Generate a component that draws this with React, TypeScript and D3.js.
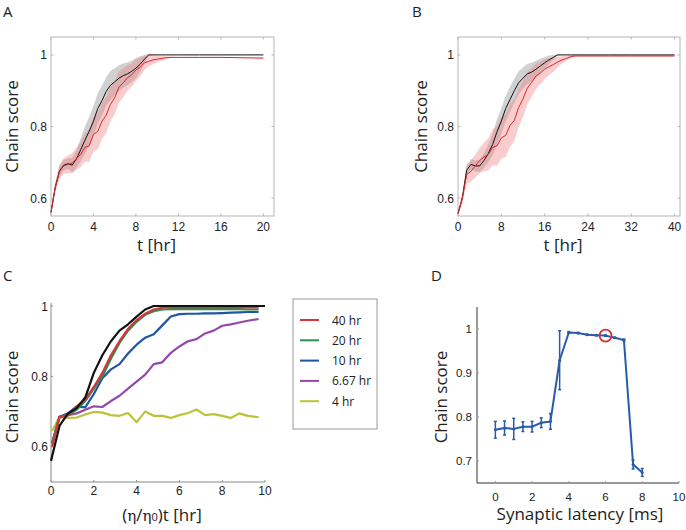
import React from "react";
import * as d3 from "d3";

// ---------- Panel A data ----------
const tA = [0, 0.4, 0.8, 1.2, 1.6, 2.0, 2.4, 2.8, 3.2, 3.6, 4.0, 4.4, 4.8, 5.2, 5.6, 6.0, 6.4, 6.8, 7.2, 7.6, 8.0, 8.4, 8.8, 9.2, 9.6, 10, 10.4, 10.8, 11.2, 12, 14, 16, 18, 20];
const blackA = [0.56, 0.63, 0.676, 0.692, 0.696, 0.692, 0.71, 0.735, 0.762, 0.787, 0.815, 0.85, 0.872, 0.898, 0.915, 0.925, 0.935, 0.942, 0.947, 0.954, 0.963, 0.974, 0.988, 1.0, 1.0, 1.0, 1.0, 1.0, 1.0, 1.0, 1.0, 1.0, 1.0, 1.0];
const blackASd = [0.004, 0.01, 0.015, 0.015, 0.015, 0.02, 0.025, 0.032, 0.038, 0.04, 0.042, 0.042, 0.042, 0.04, 0.04, 0.038, 0.036, 0.034, 0.032, 0.03, 0.028, 0.022, 0.012, 0.003, 0, 0, 0, 0, 0, 0, 0, 0, 0, 0];
const redA = [0.56, 0.63, 0.674, 0.69, 0.694, 0.698, 0.71, 0.722, 0.742, 0.746, 0.778, 0.786, 0.815, 0.832, 0.862, 0.88, 0.91, 0.922, 0.936, 0.944, 0.958, 0.966, 0.978, 0.982, 0.986, 0.988, 0.99, 0.992, 0.993, 0.993, 0.993, 0.993, 0.992, 0.991];
const redASd = [0.005, 0.015, 0.02, 0.022, 0.025, 0.028, 0.03, 0.035, 0.04, 0.045, 0.048, 0.05, 0.05, 0.05, 0.048, 0.046, 0.044, 0.04, 0.036, 0.032, 0.03, 0.026, 0.02, 0.015, 0.012, 0.009, 0.006, 0.004, 0.002, 0.001, 0.001, 0.001, 0.001, 0.001];
const ticksA = [0, 4, 8, 12, 16, 20];

// ---------- Panel B data ----------
const tB = [0, 0.8, 1.6, 2.4, 3.2, 4.0, 4.8, 5.6, 6.4, 7.2, 8.0, 8.8, 9.6, 10.4, 11.2, 12, 12.8, 13.6, 14.4, 15.2, 16, 16.8, 17.6, 18.4, 19.2, 20, 20.8, 21.6, 24, 28, 32, 36, 40];
const blackB = [0.557, 0.6, 0.678, 0.694, 0.69, 0.69, 0.705, 0.725, 0.75, 0.785, 0.815, 0.85, 0.875, 0.9, 0.922, 0.935, 0.947, 0.952, 0.96, 0.969, 0.978, 0.986, 0.993, 1.0, 1.0, 1.0, 1.0, 1.0, 1.0, 1.0, 1.0, 1.0, 1.0];
const blackBSd = [0.004, 0.01, 0.015, 0.015, 0.015, 0.018, 0.02, 0.025, 0.03, 0.035, 0.036, 0.036, 0.035, 0.034, 0.032, 0.03, 0.028, 0.026, 0.024, 0.02, 0.016, 0.012, 0.007, 0.002, 0, 0, 0, 0, 0, 0, 0, 0, 0];
const redB = [0.557, 0.6, 0.665, 0.675, 0.69, 0.705, 0.715, 0.722, 0.742, 0.746, 0.768, 0.775, 0.803, 0.817, 0.853, 0.877, 0.907, 0.923, 0.941, 0.949, 0.96, 0.967, 0.973, 0.98, 0.986, 0.99, 0.995, 0.997, 0.997, 0.997, 0.997, 0.997, 0.997];
const redBSd = [0.005, 0.015, 0.025, 0.03, 0.032, 0.035, 0.04, 0.045, 0.05, 0.055, 0.058, 0.06, 0.06, 0.058, 0.055, 0.05, 0.045, 0.04, 0.036, 0.032, 0.028, 0.024, 0.02, 0.015, 0.01, 0.007, 0.004, 0.002, 0.001, 0.001, 0.001, 0.001, 0.001];
const ticksB = [0, 8, 16, 24, 32, 40];

const yTicksAB = [0.6, 0.8, 1];

// ---------- Panel C data ----------
const xCBlack = [0, 0.4, 0.8, 1.2, 1.6, 2.0, 2.4, 2.8, 3.2, 3.6, 4.0, 4.4, 4.8, 6, 8, 10];
const blackC = [0.56, 0.66, 0.695, 0.71, 0.74, 0.81, 0.86, 0.9, 0.93, 0.948, 0.97, 0.99, 1.0, 1.0, 1.0, 1.0];
const xC = [0.05, 0.4, 0.8, 1.2, 1.6, 2.0, 2.4, 2.8, 3.2, 3.6, 4.0, 4.4, 4.8, 5.2, 5.6, 6.0, 6.4, 6.8, 7.2, 7.6, 8.0, 8.4, 8.8, 9.2, 9.7];
const seriesC40 = [0.6, 0.685, 0.69, 0.715, 0.735, 0.77, 0.81, 0.86, 0.9, 0.935, 0.96, 0.978, 0.99, 0.995, 0.997, 0.997, 0.997, 0.997, 0.997, 0.997, 0.997, 0.997, 0.997, 0.996, 0.996];
const seriesC20 = [0.61, 0.685, 0.69, 0.705, 0.73, 0.765, 0.8, 0.85, 0.895, 0.93, 0.955, 0.975, 0.985, 0.99, 0.991, 0.991, 0.991, 0.991, 0.991, 0.991, 0.991, 0.991, 0.991, 0.99, 0.99];
const seriesC10 = [0.61, 0.685, 0.695, 0.715, 0.712, 0.75, 0.795, 0.82, 0.835, 0.865, 0.89, 0.91, 0.92, 0.945, 0.97, 0.977, 0.978, 0.978, 0.979, 0.979, 0.98, 0.981, 0.982, 0.983, 0.983];
const seriesC667 = [0.61, 0.685, 0.69, 0.695, 0.705, 0.715, 0.713, 0.73, 0.745, 0.765, 0.785, 0.805, 0.835, 0.84, 0.867, 0.885, 0.9, 0.906, 0.922, 0.93, 0.944, 0.948, 0.953, 0.958, 0.963];
const seriesC4 = [0.645, 0.685, 0.682, 0.683, 0.692, 0.699, 0.697, 0.69, 0.688, 0.696, 0.67, 0.7, 0.688, 0.688, 0.682, 0.69, 0.696, 0.706, 0.69, 0.693, 0.688, 0.682, 0.695, 0.688, 0.684];
const legendC = ["40 hr", "20 hr", "10 hr", "6.67 hr", "4 hr"];
const colorsC = ["#d8363a", "#2c8f4e", "#1f55a5", "#9449a8", "#bcc23a"];
const xTicksC = [0, 2, 4, 6, 8, 10];
const yTicksC = [0.6, 0.8, 1];

// ---------- Panel D data ----------
const latency = [0, 0.5, 1, 1.5, 2, 2.5, 3, 3.5, 4, 4.5, 5, 5.5, 6, 6.5, 7, 7.5, 8];
const scoreD = [0.771, 0.775, 0.773, 0.778, 0.778, 0.787, 0.79, 0.929, 0.992, 0.991, 0.987, 0.986, 0.985, 0.98, 0.975, 0.692, 0.674];
const errD = [0.019, 0.016, 0.024, 0.011, 0.012, 0.011, 0.018, 0.067, 0.002, 0.001, 0.001, 0.001, 0.001, 0.001, 0.002, 0.01, 0.009];
const highlightD = 6;
const xTicksD = [0, 2, 4, 6, 8, 10];
const yTicksD = [0.7, 0.8, 0.9, 1];

const tickFont = "'Liberation Sans', Arial, sans-serif";
const labelFont = "'Open Sans', 'Noto Sans', sans-serif";

type BandProps = {
  letter: string;
  letterX: number;
  left: number; right: number; top: number; bottom: number;
  xMax: number;
  t: number[];
  black: number[]; blackSd: number[];
  red: number[]; redSd: number[];
  xTicks: number[];
  ylabX: number;
};

function BandPanel(p: BandProps) {
  const x = d3.scaleLinear().domain([0, p.xMax]).range([p.left, p.right]);
  const y = d3.scaleLinear().domain([0.55, 1.05]).range([p.bottom, p.top]);
  const idx = p.t.map((_, i) => i);
  const area = (m: number[], s: number[]) =>
    d3.area<number>().x((i) => x(p.t[i])).y0((i) => y(m[i] - s[i])).y1((i) => y(Math.min(1.005, m[i] + s[i])))(idx) || "";
  const line = (m: number[]) => d3.line<number>().x((i) => x(p.t[i])).y((i) => y(m[i]))(idx) || "";
  const frame = "#b5b5b5";
  return (
    <g>
      <text x={p.letterX} y={17} fontFamily={labelFont} fontSize={15} fill="#222">{p.letter}</text>
      <rect x={p.left} y={p.top} width={p.right - p.left} height={p.bottom - p.top} fill="none" stroke={frame} strokeWidth={1} />
      {p.xTicks.map((v) => (
        <g key={"xt" + v}>
          <line x1={x(v)} x2={x(v)} y1={p.bottom} y2={p.bottom - 2.5} stroke={frame} />
          <line x1={x(v)} x2={x(v)} y1={p.top} y2={p.top + 2.5} stroke={frame} />
          <text x={x(v)} y={p.bottom + 15} textAnchor="middle" fontFamily={tickFont} fontSize={12} fill="#222">{v}</text>
        </g>
      ))}
      {yTicksAB.map((v) => (
        <g key={"yt" + v}>
          <line x1={p.left} x2={p.left + 2.5} y1={y(v)} y2={y(v)} stroke={frame} />
          <line x1={p.right} x2={p.right - 2.5} y1={y(v)} y2={y(v)} stroke={frame} />
          <text x={p.left - 4} y={y(v) + 4.5} textAnchor="end" fontFamily={tickFont} fontSize={12} fill="#222">{v}</text>
        </g>
      ))}
      <path d={area(p.black, p.blackSd)} fill="#b8b8b8" fillOpacity={0.65} />
      <path d={area(p.red, p.redSd)} fill="#f07c7c" fillOpacity={0.38} />
      <path d={line(p.black)} fill="none" stroke="#111" strokeWidth={1} />
      <path d={line(p.red)} fill="none" stroke="#e0262a" strokeWidth={1} />
      <text transform={`translate(${p.ylabX},${(p.top + p.bottom) / 2}) rotate(-90)`} textAnchor="middle" fontFamily={labelFont} fontSize={17} fill="#222">Chain score</text>
      <text x={(p.left + p.right) / 2 - 6} y={251} textAnchor="middle" fontFamily={labelFont} fontSize={17} fill="#222">t [hr]</text>
    </g>
  );
}

function PanelC() {
  const left = 51, right = 265, top = 306, bottom = 482;
  const x = d3.scaleLinear().domain([0, 10]).range([left, right]);
  const y = d3.scaleLinear().domain([0.5, 1.0]).range([bottom, top]);
  const ln = (xs: number[], ys: number[]) =>
    d3.line<number>().x((i) => x(xs[i])).y((i) => y(ys[i]))(xs.map((_, i) => i)) || "";
  const series = [seriesC40, seriesC20, seriesC10, seriesC667, seriesC4];
  const axisColor = "#8a8a8a";
  return (
    <g>
      <text x={3} y={281} fontFamily={labelFont} fontSize={15} fill="#222">C</text>
      <line x1={left} x2={left} y1={top - 3} y2={bottom} stroke={axisColor} />
      <line x1={left} x2={right} y1={bottom} y2={bottom} stroke={axisColor} />
      {xTicksC.map((v) => (
        <g key={"cx" + v}>
          <line x1={x(v)} x2={x(v)} y1={bottom} y2={bottom - 2} stroke={axisColor} />
          <text x={x(v)} y={bottom + 13} textAnchor="middle" fontFamily={tickFont} fontSize={12} fill="#222">{v}</text>
        </g>
      ))}
      {yTicksC.map((v) => (
        <g key={"cy" + v}>
          <line x1={left} x2={left + 2} y1={y(v)} y2={y(v)} stroke={axisColor} />
          <text x={left - 3} y={y(v) + 4.5} textAnchor="end" fontFamily={tickFont} fontSize={12} fill="#222">{v}</text>
        </g>
      ))}
      {series.slice().reverse().map((s, k) => {
        const i = series.length - 1 - k;
        return <path key={"s" + i} d={ln(xC, s)} fill="none" stroke={colorsC[i]} strokeWidth={2.2} strokeLinejoin="round" />;
      })}
      <path d={ln(xCBlack, blackC)} fill="none" stroke="#111" strokeWidth={2.2} strokeLinejoin="round" />
      <text transform={`translate(18,${(top + bottom) / 2 + 3}) rotate(-90)`} textAnchor="middle" fontFamily={labelFont} fontSize={17} fill="#222">Chain score</text>
      <text x={162} y={521} textAnchor="middle" fontFamily={labelFont} fontSize={17} fill="#222">
        (<tspan fontFamily="'DejaVu Serif', serif" fontSize={15}>η</tspan>/<tspan fontFamily="'DejaVu Serif', serif" fontSize={15}>η</tspan><tspan fontSize={11}>0</tspan>)t [hr]
      </text>
      {/* legend */}
      <rect x={293} y={299} width={84} height={130} fill="#fff" stroke="#9a9a9a" strokeWidth={1} />
      {legendC.map((lab, i) => {
        const yy = 320 + i * 20.3;
        return (
          <g key={"lg" + i}>
            <line x1={300} x2={319} y1={yy} y2={yy} stroke={colorsC[i]} strokeWidth={2} />
            <text x={332} y={yy + 4.5} fontFamily={labelFont} fontSize={12} fill="#222">{lab}</text>
          </g>
        );
      })}
    </g>
  );
}

function PanelD() {
  const left = 477, right = 679, top = 307, bottom = 483;
  const x = d3.scaleLinear().domain([-1, 10]).range([left, right]);
  const y = d3.scaleLinear().domain([0.65, 1.05]).range([bottom, top]);
  const idx = latency.map((_, i) => i);
  const path = d3.line<number>().x((i) => x(latency[i])).y((i) => y(scoreD[i]))(idx) || "";
  const blue = "#2a5ba8";
  const hi = latency.indexOf(highlightD);
  return (
    <g>
      <text x={431} y={281} fontFamily={labelFont} fontSize={15} fill="#222">D</text>
      <line x1={left} x2={left} y1={top} y2={bottom} stroke="#333" />
      <line x1={left} x2={right} y1={bottom} y2={bottom} stroke="#333" />
      {xTicksD.map((v) => (
        <g key={"dx" + v}>
          <line x1={x(v)} x2={x(v)} y1={bottom} y2={bottom - 2} stroke="#999" />
          <text x={x(v)} y={bottom + 18} textAnchor="middle" fontFamily={tickFont} fontSize={11.5} fill="#222">{v}</text>
        </g>
      ))}
      {yTicksD.map((v) => (
        <g key={"dy" + v}>
          <line x1={left} x2={left + 2} y1={y(v)} y2={y(v)} stroke="#999" />
          <text x={left - 5} y={y(v) + 4} textAnchor="end" fontFamily={tickFont} fontSize={11.5} fill="#222">{v}</text>
        </g>
      ))}
      {idx.map((i) => (
        <g key={"e" + i} stroke={blue} strokeWidth={1.5}>
          <line x1={x(latency[i])} x2={x(latency[i])} y1={y(scoreD[i] - errD[i])} y2={y(scoreD[i] + errD[i])} />
          <line x1={x(latency[i]) - 1.5} x2={x(latency[i]) + 1.5} y1={y(scoreD[i] - errD[i])} y2={y(scoreD[i] - errD[i])} />
          <line x1={x(latency[i]) - 1.5} x2={x(latency[i]) + 1.5} y1={y(scoreD[i] + errD[i])} y2={y(scoreD[i] + errD[i])} />
        </g>
      ))}
      <path d={path} fill="none" stroke={blue} strokeWidth={2} strokeLinejoin="round" />
      {idx.map((i) => (
        <circle key={"p" + i} cx={x(latency[i])} cy={y(scoreD[i])} r={1.5} fill={blue} />
      ))}
      <circle cx={x(latency[hi])} cy={y(scoreD[hi])} r={6} fill="none" stroke="#e02a2a" strokeWidth={1.8} />
      <text transform={`translate(447,${(top + bottom) / 2 + 2}) rotate(-90)`} textAnchor="middle" fontFamily={labelFont} fontSize={17} fill="#222">Chain score</text>
      <text x={580} y={520} textAnchor="middle" fontFamily={labelFont} fontSize={17} fill="#222">Synaptic latency [ms]</text>
    </g>
  );
}

export default function App() {
  return (
    <svg width={686} height={530} style={{ display: "block", position: "absolute", left: 0, top: 0 }} fontFamily={labelFont}>
      <rect width={686} height={530} fill="#fff" />
      <BandPanel letter="A" letterX={3} left={51} right={274} top={37} bottom={216} xMax={21}
        t={tA} black={blackA} blackSd={blackASd} red={redA} redSd={redASd} xTicks={ticksA} ylabX={18} />
      <BandPanel letter="B" letterX={412} left={458} right={680} top={37} bottom={216} xMax={41}
        t={tB} black={blackB} blackSd={blackBSd} red={redB} redSd={redBSd} xTicks={ticksB} ylabX={427} />
      <PanelC />
      <PanelD />
    </svg>
  );
}
